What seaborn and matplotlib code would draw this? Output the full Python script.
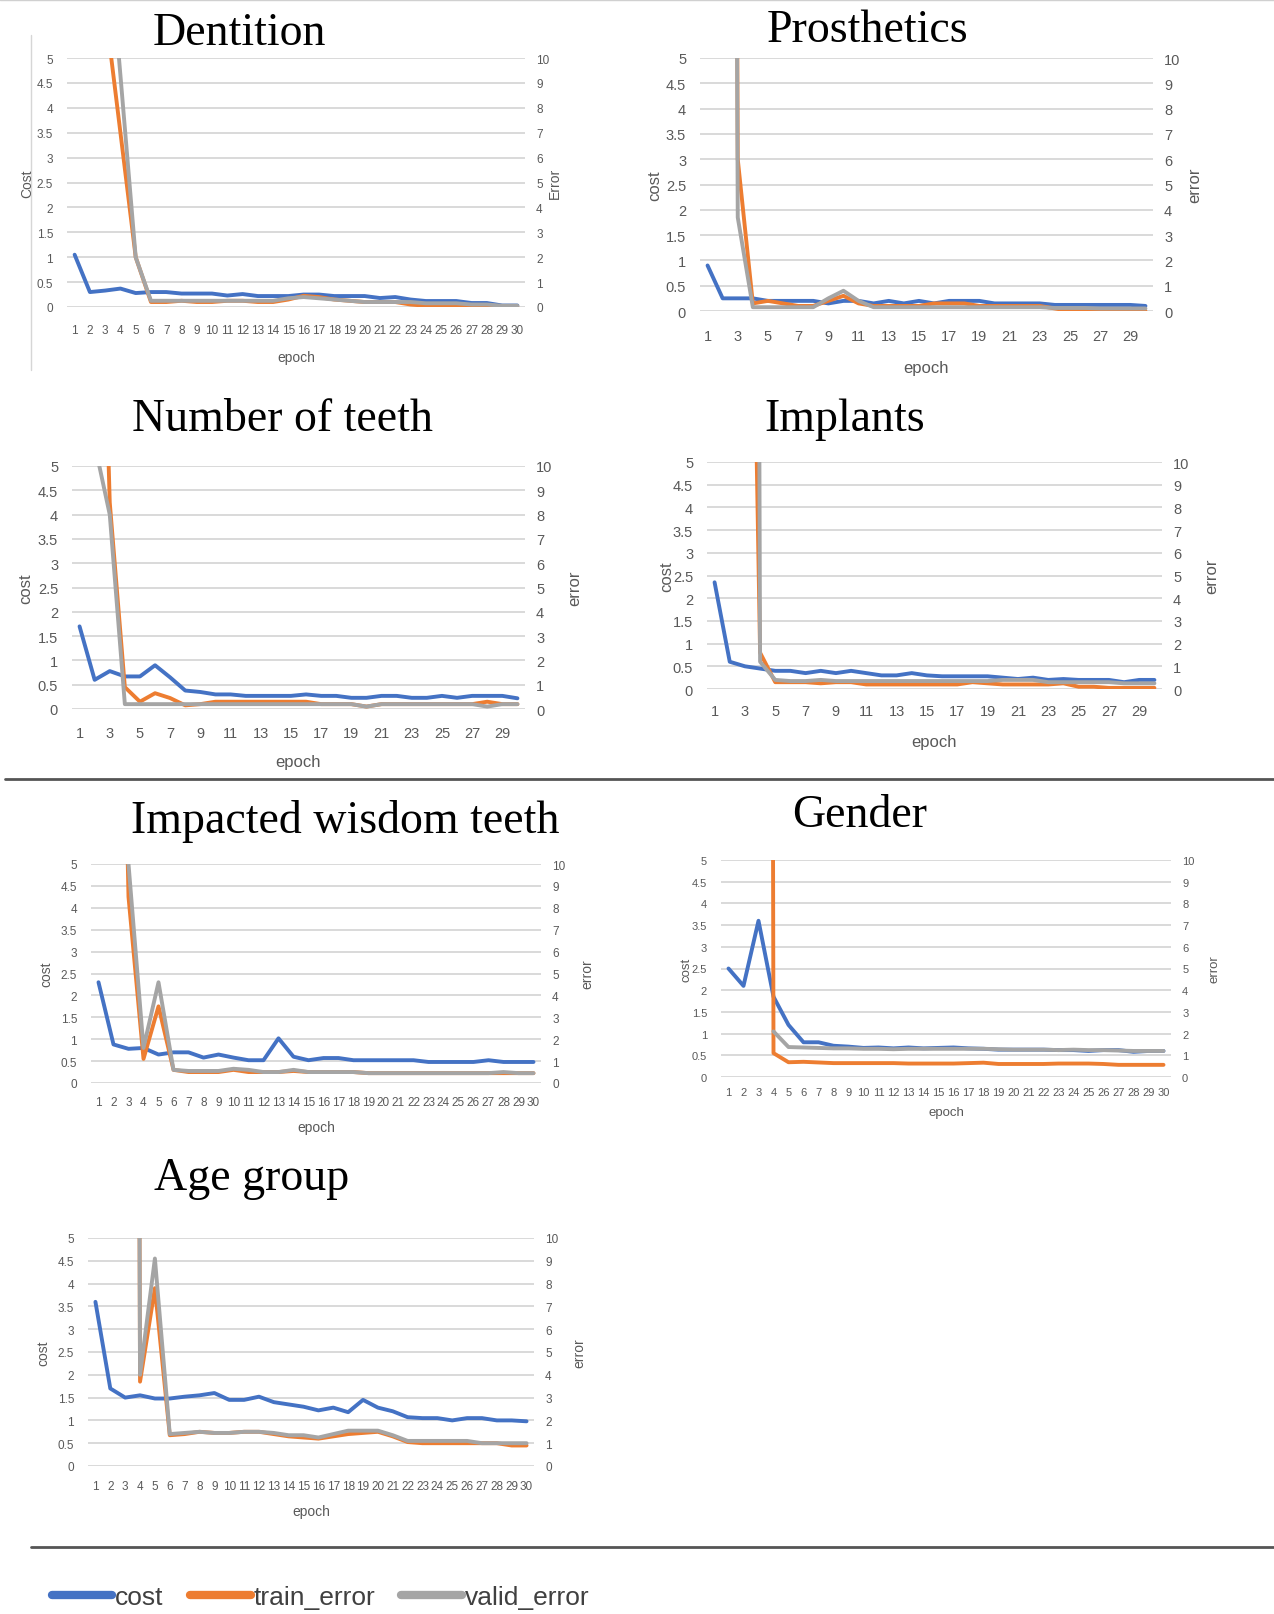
import numpy as np
import pandas as pd
import matplotlib
matplotlib.use("Agg")
import matplotlib.pyplot as plt
from matplotlib.lines import Line2D
import seaborn as sns

sns.set_theme(style="white")
plt.rcParams['font.family'] = ['Liberation Sans Narrow', 'Liberation Sans', 'DejaVu Sans']

W, H = 1274, 1615
BLUE, ORANGE, GRAY = "#4472C4", "#ED7D31", "#A5A5A5"
TXT = "#595959"
nan = np.nan

epochs = list(range(1, 31))

# ---------------- data ----------------
dentition_cost = [1.05, 0.30, 0.33, 0.37, 0.28, 0.30, 0.30, 0.27, 0.27, 0.27, 0.23, 0.26, 0.22, 0.22, 0.22,
                  0.25, 0.25, 0.22, 0.22, 0.22, 0.18, 0.20, 0.15, 0.12, 0.12, 0.12, 0.08, 0.08, 0.03, 0.03]
dentition_train = [20, 18, 12, 7, 2, 0.2, 0.2, 0.25, 0.2, 0.2, 0.25, 0.25, 0.2, 0.2, 0.3,
                   0.45, 0.4, 0.3, 0.25, 0.2, 0.2, 0.2, 0.1, 0.05, 0.05, 0.05, 0.05, 0.0, 0.0, 0.0]
dentition_valid = [20, 18, 16.5, 9.3, 2, 0.25, 0.25, 0.25, 0.25, 0.25, 0.25, 0.25, 0.25, 0.25, 0.35,
                   0.4, 0.35, 0.3, 0.25, 0.2, 0.2, 0.2, 0.2, 0.15, 0.15, 0.15, 0.1, 0.1, 0.05, 0.05]

prosthetics_cost = [0.9, 0.25, 0.25, 0.25, 0.2, 0.2, 0.2, 0.2, 0.15, 0.2, 0.2, 0.15, 0.2, 0.15, 0.2,
                    0.15, 0.2, 0.2, 0.2, 0.15, 0.15, 0.15, 0.15, 0.12, 0.12, 0.12, 0.12, 0.12, 0.12, 0.1]
prosthetics_train = [150, 150, 6.0, 0.3, 0.4, 0.3, 0.2, 0.2, 0.4, 0.6, 0.3, 0.2, 0.2, 0.2, 0.2,
                     0.3, 0.3, 0.3, 0.2, 0.2, 0.2, 0.2, 0.2, 0.1, 0.0, 0.0, 0.0, 0.0, 0.0, 0.0]
prosthetics_valid = [150, 150, 3.7, 0.15, 0.15, 0.15, 0.15, 0.15, 0.5, 0.8, 0.4, 0.15, 0.15, 0.15, 0.15,
                     0.15, 0.15, 0.15, 0.15, 0.15, 0.15, 0.15, 0.15, 0.12, 0.12, 0.12, 0.1, 0.1, 0.1, 0.1]

teeth_cost = [1.7, 0.6, 0.78, 0.67, 0.67, 0.9, 0.65, 0.38, 0.35, 0.3, 0.3, 0.27, 0.27, 0.27, 0.27,
              0.3, 0.27, 0.27, 0.23, 0.23, 0.27, 0.27, 0.23, 0.23, 0.27, 0.23, 0.27, 0.27, 0.27, 0.22]
teeth_train = [40, 30, 8.5, 0.9, 0.3, 0.65, 0.45, 0.15, 0.2, 0.3, 0.3, 0.3, 0.3, 0.3, 0.3,
               0.3, 0.2, 0.2, 0.2, 0.1, 0.2, 0.2, 0.2, 0.2, 0.2, 0.2, 0.2, 0.3, 0.2, 0.2]
teeth_valid = [20, 10.9, 8, 0.2, 0.2, 0.2, 0.2, 0.2, 0.2, 0.2, 0.2, 0.2, 0.2, 0.2, 0.2,
               0.2, 0.2, 0.2, 0.2, 0.1, 0.2, 0.2, 0.2, 0.2, 0.2, 0.2, 0.2, 0.1, 0.2, 0.2]

implants_cost = [2.35, 0.6, 0.5, 0.45, 0.4, 0.4, 0.35, 0.4, 0.35, 0.4, 0.35, 0.3, 0.3, 0.35, 0.3,
                 0.28, 0.28, 0.28, 0.28, 0.25, 0.22, 0.25, 0.2, 0.22, 0.2, 0.2, 0.2, 0.15, 0.2, 0.2]
implants_train = [200, 200, 40, 1.6, 0.3, 0.3, 0.3, 0.25, 0.3, 0.3, 0.2, 0.2, 0.2, 0.2, 0.2,
                  0.2, 0.2, 0.3, 0.25, 0.2, 0.2, 0.2, 0.2, 0.25, 0.1, 0.1, 0.05, 0.05, 0.05, 0.05]
implants_valid = [200, 200, 200, 1.2, 0.4, 0.35, 0.35, 0.4, 0.35, 0.35, 0.35, 0.35, 0.35, 0.35, 0.35,
                  0.35, 0.35, 0.35, 0.35, 0.4, 0.4, 0.4, 0.3, 0.3, 0.3, 0.3, 0.3, 0.25, 0.25, 0.25]

impacted_cost = [2.3, 0.88, 0.78, 0.8, 0.65, 0.7, 0.7, 0.58, 0.65, 0.58, 0.52, 0.52, 1.02, 0.6, 0.52,
                 0.57, 0.57, 0.52, 0.52, 0.52, 0.52, 0.52, 0.48, 0.48, 0.48, 0.48, 0.52, 0.48, 0.48, 0.48]
impacted_train = [40, 40, 8.5, 1.1, 3.5, 0.6, 0.5, 0.5, 0.5, 0.6, 0.5, 0.5, 0.5, 0.55, 0.5,
                  0.5, 0.5, 0.5, 0.45, 0.45, 0.45, 0.45, 0.45, 0.45, 0.45, 0.45, 0.45, 0.45, 0.45, 0.45]
impacted_valid = [40, 40, 10, 1.6, 4.6, 0.6, 0.55, 0.55, 0.55, 0.65, 0.6, 0.5, 0.5, 0.6, 0.5,
                  0.5, 0.5, 0.5, 0.45, 0.45, 0.45, 0.45, 0.45, 0.45, 0.45, 0.45, 0.45, 0.5, 0.45, 0.45]

gender_cost = [2.5, 2.1, 3.6, 1.85, 1.2, 0.8, 0.8, 0.72, 0.7, 0.67, 0.68, 0.66, 0.68, 0.66, 0.67,
               0.68, 0.66, 0.65, 0.63, 0.63, 0.63, 0.63, 0.62, 0.62, 0.6, 0.62, 0.62, 0.58, 0.6, 0.6]
gender_train = [300, 300, 300, 1.1, 0.68, 0.7, 0.67, 0.64, 0.64, 0.64, 0.64, 0.64, 0.62, 0.62, 0.62,
                0.62, 0.64, 0.66, 0.6, 0.6, 0.6, 0.6, 0.62, 0.62, 0.62, 0.6, 0.56, 0.56, 0.56, 0.56]
gender_valid = [nan, nan, nan, 2.1, 1.38, 1.36, 1.34, 1.32, 1.32, 1.3, 1.3, 1.28, 1.3, 1.3, 1.3,
                1.3, 1.3, 1.3, 1.28, 1.26, 1.26, 1.26, 1.24, 1.26, 1.24, 1.24, 1.22, 1.2, 1.2, 1.2]

age_cost = [3.6, 1.7, 1.5, 1.55, 1.48, 1.48, 1.52, 1.55, 1.6, 1.45, 1.45, 1.52, 1.4, 1.35, 1.3,
            1.22, 1.28, 1.18, 1.45, 1.28, 1.2, 1.07, 1.05, 1.05, 1.0, 1.05, 1.05, 1.0, 1.0, 0.98]
age_train = [200, 200, 200, 3.7, 7.8, 1.35, 1.4, 1.5, 1.45, 1.45, 1.5, 1.5, 1.4, 1.3, 1.25,
             1.2, 1.3, 1.4, 1.45, 1.5, 1.3, 1.05, 1.0, 1.0, 1.0, 1.0, 1.0, 1.0, 0.9, 0.9]
age_valid = [200, 200, 200, 4.0, 9.1, 1.4, 1.45, 1.5, 1.45, 1.45, 1.5, 1.5, 1.45, 1.35, 1.35,
             1.25, 1.4, 1.55, 1.55, 1.55, 1.35, 1.1, 1.1, 1.1, 1.1, 1.1, 1.0, 1.0, 1.0, 1.0]

titles = ["Dentition", "Prosthetics", "Number of teeth", "Implants",
          "Impacted wisdom teeth", "Gender", "Age group"]
series_names = ["cost", "train_error", "valid_error"]
cost_ticks = np.arange(0, 5.01, 0.5)
error_ticks = list(range(0, 11))

# ---------------- layout (pixels) ----------------
panels = [
    dict(data=(dentition_cost, dentition_train, dentition_valid), box=(67, 525, 59, 308), tt=(239, 34),
         cx=27, ex=555, ty=331, ey=358, step=1, fs=8.5, yl=("Cost", "Error")),
    dict(data=(prosthetics_cost, prosthetics_train, prosthetics_valid), box=(700, 1153, 59, 312), tt=(867, 31),
         cx=655, ex=1195, ty=338, ey=368, step=2, fs=10.5, yl=("cost", "error")),
    dict(data=(teeth_cost, teeth_train, teeth_valid), box=(72, 525, 467, 710), tt=(283, 420),
         cx=26, ex=575, ty=735, ey=763, step=2, fs=10.5, yl=("cost", "error")),
    dict(data=(implants_cost, implants_train, implants_valid), box=(707, 1162, 463, 690), tt=(845, 420),
         cx=667, ex=1212, ty=713, ey=743, step=2, fs=10.5, yl=("cost", "error")),
    dict(data=(impacted_cost, impacted_train, impacted_valid), box=(91, 541, 865, 1084), tt=(345, 822),
         cx=46, ex=587, ty=1103, ey=1128, step=1, fs=8.5, yl=("cost", "error")),
    dict(data=(gender_cost, gender_train, gender_valid), box=(721, 1171, 861, 1078), tt=(860, 816),
         cx=686, ex=1215, ty=1094, ey=1113, step=1, fs=8, yl=("cost", "error")),
    dict(data=(age_cost, age_train, age_valid), box=(88, 534, 1239, 1467), tt=(252, 1179),
         cx=43, ex=579, ty=1487, ey=1512, step=1, fs=8.5, yl=("cost", "error")),
]

fig = plt.figure(figsize=(W / 100, H / 100), dpi=100)
fig.patch.set_facecolor("white")

def fx(x):
    return x / W

def fy(y):
    return 1 - y / H

for title, p in zip(titles, panels):
    l, r, t, b = p["box"]
    cost, train, valid = p["data"]
    df = pd.DataFrame({"epoch": epochs, "cost": cost, "train_error": train, "valid_error": valid})
    ax = fig.add_axes([fx(l), fy(b), (r - l) / W, (b - t) / H])
    sns.lineplot(data=df, x="epoch", y="cost", ax=ax, color=BLUE, lw=2.8)
    ax2 = ax.twinx()
    sns.lineplot(data=df, x="epoch", y="train_error", ax=ax2, color=ORANGE, lw=2.8)
    sns.lineplot(data=df, x="epoch", y="valid_error", ax=ax2, color=GRAY, lw=2.8)

    ax.set_xlim(0.5, 30.5)
    ax.set_ylim(0, 5)
    ax2.set_ylim(0, 10)
    ax.set_yticks(cost_ticks)
    ax.set_yticklabels([f"{v:g}" for v in cost_ticks])
    ax2.set_yticks(error_ticks)
    ax2.set_yticklabels([str(v) for v in error_ticks])
    ax.set_xticks(epochs[::p["step"]])
    ax.set_xticklabels([str(e) for e in epochs[::p["step"]]])
    ax.yaxis.grid(True, color="#D9D9D9", lw=1.4)
    ax.xaxis.grid(False)
    ax.set_axisbelow(True)
    for a in (ax, ax2):
        for s in a.spines.values():
            s.set_visible(False)
        a.set_xlabel("")
        a.set_ylabel("")
        a.patch.set_alpha(0)
    fs = p["fs"]
    ax.tick_params(axis="y", length=0, pad=10, labelsize=fs, labelcolor=TXT)
    ax2.tick_params(axis="y", length=0, pad=8, labelsize=fs, labelcolor=TXT)
    ax.tick_params(axis="x", length=0, labelsize=fs, labelcolor=TXT,
                   pad=(p["ty"] - b) * 0.72 - fs * 0.55)

    fig.text(fx(p["tt"][0]), fy(p["tt"][1]), title, ha="center", va="center",
             fontsize=33, family=["Liberation Serif", "DejaVu Serif"], color="black")
    ym = fy((t + b) / 2)
    fig.text(fx(p["cx"]), ym, p["yl"][0], rotation=90, ha="center", va="center",
             fontsize=fs + 1.5, color=TXT)
    fig.text(fx(p["ex"]), ym, p["yl"][1], rotation=90, ha="center", va="center",
             fontsize=fs + 1.5, color=TXT)
    fig.text(fx((l + r) / 2), fy(p["ey"]), "epoch", ha="center", va="center",
             fontsize=fs + 1.5, color=TXT)

# decorative separators
fig.add_artist(Line2D([0, 1], [fy(1), fy(1)], color="#D0D0D0", lw=1))
fig.add_artist(Line2D([fx(31), fx(31)], [fy(36), fy(371)], color="#D6D6D6", lw=1))
fig.add_artist(Line2D([fx(5), 1], [fy(780), fy(780)], color="#555555", lw=2))
fig.add_artist(Line2D([fx(31), 1], [fy(1548), fy(1548)], color="#555555", lw=2))

handles = [Line2D([], [], color=c, lw=6, solid_capstyle="round") for c in (BLUE, ORANGE, GRAY)]
fig.legend(handles, series_names, loc="center left", bbox_to_anchor=(fx(28), fy(1598)),
           ncol=3, frameon=False, fontsize=19, handlelength=2.3, handletextpad=0.1,
           columnspacing=1.0, labelcolor="#404040")

fig.savefig("out.png", dpi=100, facecolor="white")
